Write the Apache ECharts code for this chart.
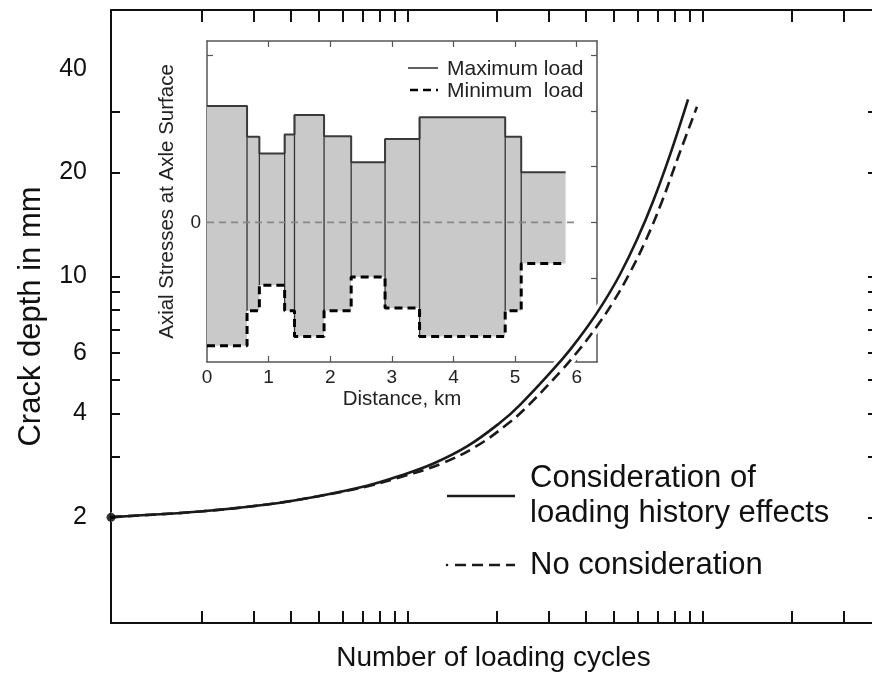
<!DOCTYPE html>
<html><head><meta charset="utf-8">
<script src="https://cdn.jsdelivr.net/npm/echarts@6/dist/echarts.min.js"></script>
<style>html,body{margin:0;padding:0;background:#fff;overflow:hidden}#c{width:876px;height:677px}</style>
</head><body><div id="c"></div>
<script>
// ---- Main chart: crack depth vs loading cycles (log-log) ----
const solidX = [0.9845,1.056,1.972,3.327,4.914,7.26,9.394,12.15,15.85,20.5,23.98,31.0,35.4,40.4,45.8,52.3,59.7,67.7,77.3,89.0];
const solidY = [2.00,2.009,2.08,2.18,2.30,2.47,2.64,2.86,3.21,3.76,4.24,5.36,6.12,7.10,8.33,10.12,12.76,16.48,22.5,32.6];
const dashX  = [0.9845,1.056,1.972,3.327,4.914,7.43,9.77,12.94,17.0,22.0,25.7,33.3,38.0,43.4,49.2,56.1,64.1,72.6,82.9,95.4];
const dashY  = [2.00,2.009,2.08,2.18,2.30,2.47,2.64,2.86,3.21,3.76,4.24,5.36,6.12,7.10,8.33,10.12,12.76,16.48,22.5,31.0];
const startPoint = [0.9845, 2];
const xTicks = [2,3,4,5,6,7,8,9,10,20,30,40,50,60,70,80,90,100,200,300];
const yTicks = [3,4,5,6,7,8,9,10,20,30];
const yTicksRight = [2,3,4,5,6,7,8,9,10,20,30];
const yLabels = [2,4,6,10,20,40];

// ---- Inset: axial stresses vs distance ----
const segStart = [0,0.65,0.85,1.26,1.42,1.90,2.34,2.89,3.45,4.84,5.10];
const segEnd   = [0.65,0.85,1.26,1.42,1.90,2.34,2.89,3.45,4.84,5.10,5.82];
const maxLoad  = [2.09,1.54,1.24,1.58,1.93,1.55,1.08,1.50,1.89,1.54,0.90];
const minLoad  = [-2.22,-1.59,-1.13,-1.59,-2.05,-1.59,-0.98,-1.54,-2.05,-1.59,-0.74];
const zeroLine = [[0,0],[6,0]];
const distTicks = [0,1,2,3,4,5,6];
const distTicksInner = [1,2,3,4,5,6];
const stressTicks = [-2,-1,0,1,2,3];
const stressLabels = [0];

const FONT = "'Liberation Sans', Arial, Helvetica, sans-serif";
const INK = '#111';
const xMin = 0.9845, xMax = 385.9, yMin = 0.9878, yMax = 59.17;

const pair = (xs, ys) => xs.map((x, i) => [x, ys[i]]);
const solidData = pair(solidX, solidY);
const dashData = pair(dashX, dashY);
const maxStep = segStart.map((s, i) => [s, maxLoad[i]]).concat([[segEnd[segEnd.length-1], maxLoad[maxLoad.length-1]]]);
const minStep = segStart.map((s, i) => [s, minLoad[i]]).concat([[segEnd[segEnd.length-1], minLoad[minLoad.length-1]]]);
const segData = segStart.map((s, i) => [s, segEnd[i], maxLoad[i], minLoad[i]]);

const mainAxisLine = {onZero: false, lineStyle: {color: INK, width: 2}};
const mainTickStyle = {color: INK, width: 2};
const insetLine = {onZero: false, lineStyle: {color: '#555', width: 1.5}};
const insetTickStyle = {color: '#555', width: 1.2};

const chart = echarts.init(document.getElementById('c'));
chart.setOption({
  animation: false,
  backgroundColor: '#fff',
  grid: [
    {left: 111, top: 10, right: 0, bottom: 52},
    {left: 207, top: 41, right: 279, bottom: 315}
  ],
  xAxis: [
    {type: 'log', gridIndex: 0, position: 'bottom', min: xMin, max: xMax,
     axisLine: mainAxisLine, axisTick: {inside: true, length: 12, customValues: xTicks, lineStyle: mainTickStyle},
     axisLabel: {show: false}, splitLine: {show: false}, minorTick: {show: false},
     name: 'Number of loading cycles', nameLocation: 'middle', nameGap: 21,
     nameTextStyle: {fontFamily: FONT, fontSize: 28, color: INK}},
    {type: 'log', gridIndex: 0, position: 'top', min: xMin, max: xMax,
     axisLine: mainAxisLine, axisTick: {inside: true, length: 12, customValues: xTicks, lineStyle: mainTickStyle},
     axisLabel: {show: false}, splitLine: {show: false}},
    {type: 'value', gridIndex: 1, position: 'bottom', min: 0, max: 6.33,
     axisLine: insetLine, axisTick: {inside: true, length: 6, customValues: distTicksInner, lineStyle: insetTickStyle},
     axisLabel: {customValues: distTicks, fontFamily: FONT, fontSize: 19, color: '#222', margin: 6},
     splitLine: {show: false},
     name: 'Distance, km', nameLocation: 'middle', nameGap: 27,
     nameTextStyle: {fontFamily: FONT, fontSize: 20.5, color: '#222'}},
    {type: 'value', gridIndex: 1, position: 'top', min: 0, max: 6.33,
     axisLine: insetLine, axisTick: {inside: true, length: 6, customValues: distTicksInner, lineStyle: insetTickStyle},
     axisLabel: {show: false}, splitLine: {show: false}}
  ],
  yAxis: [
    {type: 'log', gridIndex: 0, position: 'left', min: yMin, max: yMax,
     axisLine: mainAxisLine, axisTick: {inside: true, length: 9, customValues: yTicks, lineStyle: mainTickStyle},
     axisLabel: {customValues: yLabels, fontFamily: FONT, fontSize: 25, color: INK, margin: 24},
     splitLine: {show: false},
     name: 'Crack depth in mm', nameLocation: 'middle', nameGap: 64, nameRotate: 90,
     nameTextStyle: {fontFamily: FONT, fontSize: 31, color: INK}},
    {type: 'log', gridIndex: 0, position: 'right', min: yMin, max: yMax,
     axisLine: mainAxisLine, axisTick: {inside: true, length: 8, customValues: yTicksRight, lineStyle: mainTickStyle},
     axisLabel: {show: false}, splitLine: {show: false}},
    {type: 'value', gridIndex: 1, position: 'left', min: -2.51, max: 3.26,
     axisLine: insetLine, axisTick: {inside: true, length: 6, customValues: stressTicks, lineStyle: insetTickStyle},
     axisLabel: {customValues: stressLabels, fontFamily: FONT, fontSize: 19, color: '#222', margin: 6},
     splitLine: {show: false},
     name: 'Axial Stresses at Axle Surface', nameLocation: 'middle', nameGap: 29, nameRotate: 90,
     nameTextStyle: {fontFamily: FONT, fontSize: 20.5, color: '#222'}},
    {type: 'value', gridIndex: 1, position: 'right', min: -2.51, max: 3.26,
     axisLine: insetLine, axisTick: {inside: true, length: 6, customValues: stressTicks, lineStyle: insetTickStyle},
     axisLabel: {show: false}, splitLine: {show: false}}
  ],
  series: [
    // inset gray blocks
    {type: 'custom', xAxisIndex: 2, yAxisIndex: 2, z: 2, data: segData,
     encode: {x: [0, 1], y: [2, 3]},
     renderItem: function (params, api) {
       const p0 = api.coord([api.value(0), api.value(2)]);
       const p1 = api.coord([api.value(1), api.value(3)]);
       const children = [{type: 'rect', shape: {x: p0[0], y: p0[1], width: p1[0] - p0[0], height: p1[1] - p0[1]},
                          style: {fill: '#c9c9c9'}}];
       if (params.dataIndex > 0) {
         children.push({type: 'line', shape: {x1: p0[0], y1: p0[1], x2: p0[0], y2: p1[1]},
                        style: {stroke: '#333', lineWidth: 1.3}});
       }
       return {type: 'group', children: children};
     }},
    {type: 'line', xAxisIndex: 2, yAxisIndex: 2, z: 3, data: zeroLine, symbol: 'none',
     lineStyle: {color: '#888', width: 1.6, type: [7, 5]}},
    {type: 'line', xAxisIndex: 2, yAxisIndex: 2, z: 3, data: maxStep, step: 'end', symbol: 'none',
     lineStyle: {color: '#3a3a3a', width: 2}},
    {type: 'line', xAxisIndex: 2, yAxisIndex: 2, z: 3, data: minStep, step: 'end', symbol: 'none',
     lineStyle: {color: '#000', width: 3, type: [8, 5]}},
    // main curves: white halos then lines
    {type: 'line', xAxisIndex: 0, yAxisIndex: 0, z: 4, data: solidData, symbol: 'none', smooth: 0.4,
     lineStyle: {color: '#fff', width: 9}},
    {type: 'line', xAxisIndex: 0, yAxisIndex: 0, z: 4, data: dashData, symbol: 'none', smooth: 0.4,
     lineStyle: {color: '#fff', width: 9}},
    {type: 'line', xAxisIndex: 0, yAxisIndex: 0, z: 5, data: solidData, symbol: 'none', smooth: 0.4,
     lineStyle: {color: '#1a1a1a', width: 2.6}},
    {type: 'line', xAxisIndex: 0, yAxisIndex: 0, z: 5, data: dashData, symbol: 'none', smooth: 0.4,
     lineStyle: {color: '#1a1a1a', width: 2.6, type: [11, 6]}},
    {type: 'scatter', xAxisIndex: 0, yAxisIndex: 0, z: 6, data: [startPoint], symbolSize: 9,
     itemStyle: {color: '#000'}}
  ],
  graphic: [
    // main legend
    {type: 'line', z: 10, shape: {x1: 447, y1: 496, x2: 515, y2: 496}, style: {stroke: '#1a1a1a', lineWidth: 2.6}},
    {type: 'text', z: 10, x: 530, y: 478, style: {text: 'Consideration of', font: '31px ' + FONT, fill: INK, verticalAlign: 'middle', textVerticalAlign: 'middle'}},
    {type: 'text', z: 10, x: 530, y: 513, style: {text: 'loading history effects', font: '31px ' + FONT, fill: INK, verticalAlign: 'middle', textVerticalAlign: 'middle'}},
    {type: 'circle', z: 10, shape: {cx: 447, cy: 565, r: 1.3}, style: {fill: '#1a1a1a'}},
    {type: 'line', z: 10, shape: {x1: 455, y1: 565, x2: 515, y2: 565}, style: {stroke: '#1a1a1a', lineWidth: 2.6, lineDash: [11, 6]}},
    {type: 'text', z: 10, x: 530, y: 565, style: {text: 'No consideration', font: '31px ' + FONT, fill: INK, verticalAlign: 'middle', textVerticalAlign: 'middle'}},
    // inset legend
    {type: 'line', z: 10, shape: {x1: 408, y1: 68, x2: 438, y2: 68}, style: {stroke: '#3a3a3a', lineWidth: 1.6}},
    {type: 'text', z: 10, x: 447, y: 69, style: {text: 'Maximum load', font: '21px ' + FONT, fill: '#222', verticalAlign: 'middle', textVerticalAlign: 'middle'}},
    {type: 'line', z: 10, shape: {x1: 410, y1: 90, x2: 438, y2: 90}, style: {stroke: '#000', lineWidth: 2.6, lineDash: [8, 5]}},
    {type: 'text', z: 10, x: 447, y: 91, style: {text: 'Minimum  load', font: '21px ' + FONT, fill: '#222', verticalAlign: 'middle', textVerticalAlign: 'middle'}}
  ]
});
</script>
</body></html>
